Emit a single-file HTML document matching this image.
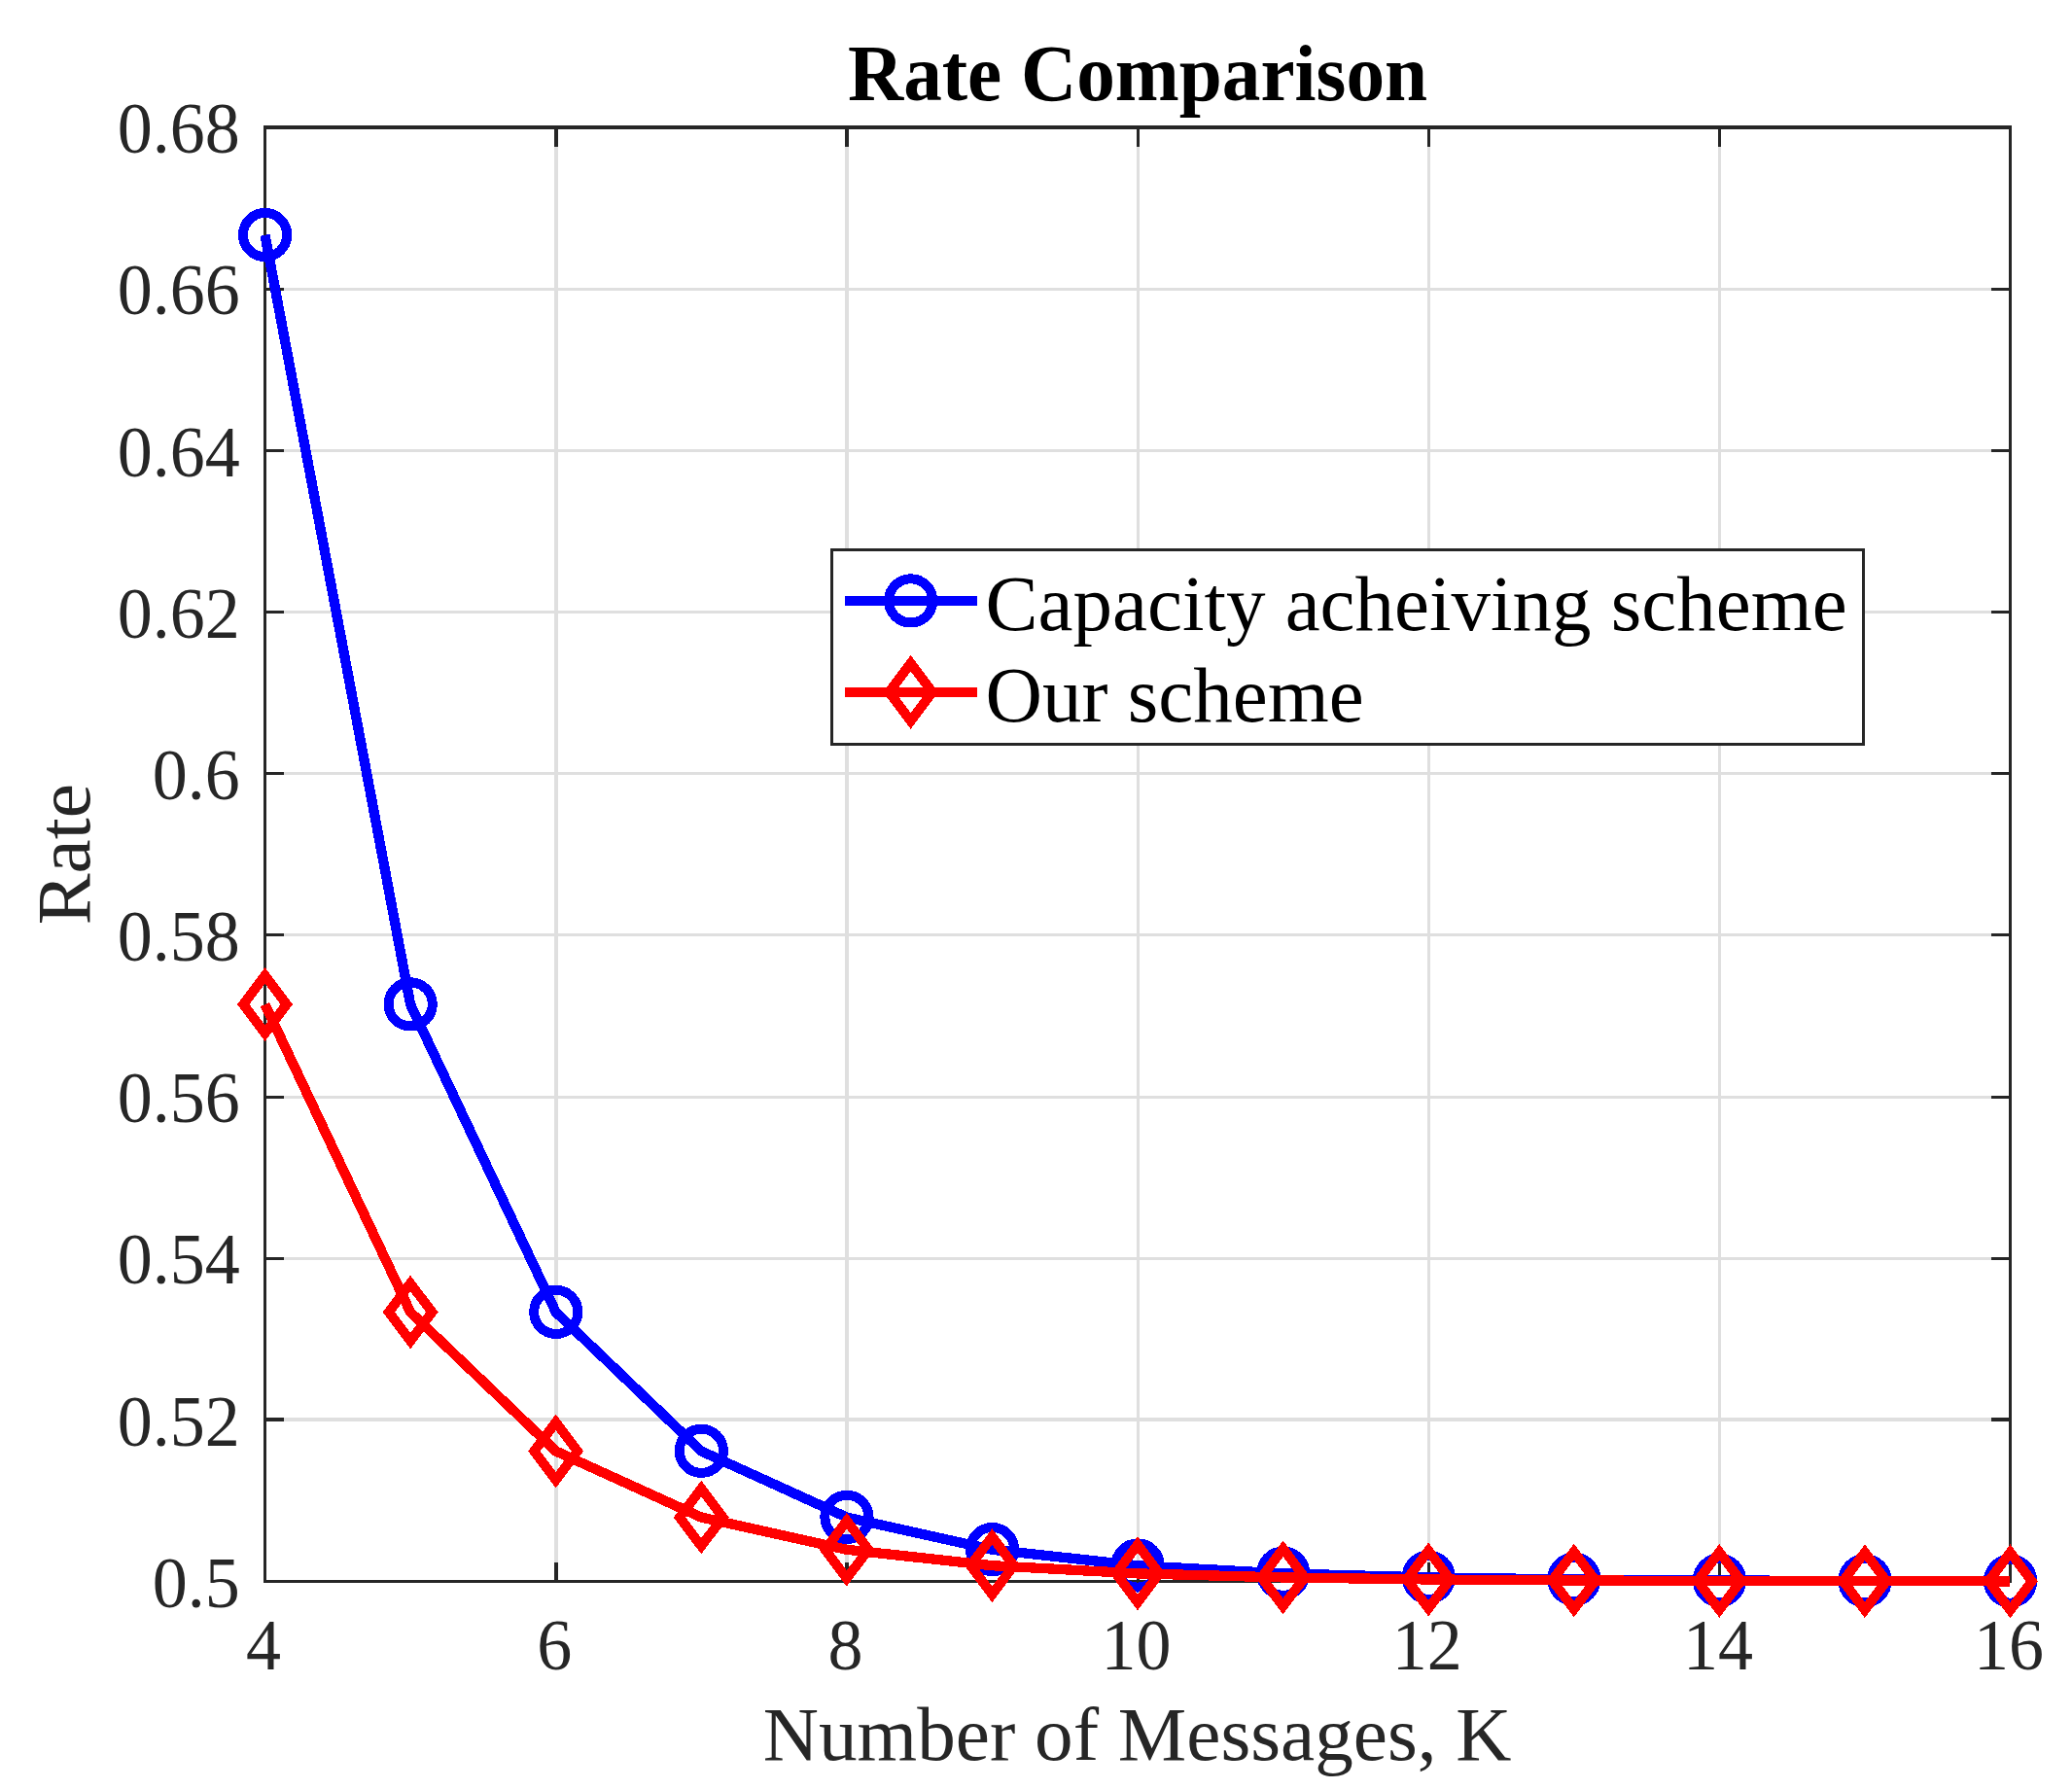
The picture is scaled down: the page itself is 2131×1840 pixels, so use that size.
<!DOCTYPE html>
<html lang="en"><head><meta charset="utf-8"><title>Rate Comparison</title>
<style>html,body{margin:0;padding:0;background:#fff;}body{width:2131px;height:1840px;overflow:hidden;}svg{display:block;}text{font-family:"Liberation Serif","Times New Roman",serif;}</style></head><body>
<svg width="2131" height="1840" viewBox="0 0 2131 1840">
<rect x="0" y="0" width="2131" height="1840" fill="#ffffff"/>
<g fill="#dfdfdf" stroke="none" shape-rendering="crispEdges">
<rect x="570" y="131" width="4" height="1496"/>
<rect x="869" y="131" width="4" height="1496"/>
<rect x="1169" y="131" width="3" height="1496"/>
<rect x="1468" y="131" width="3" height="1496"/>
<rect x="1767" y="131" width="3" height="1496"/>
<rect x="272" y="1458" width="1796" height="4"/>
<rect x="272" y="1293" width="1796" height="3"/>
<rect x="272" y="1127" width="1796" height="3"/>
<rect x="272" y="960" width="1796" height="3"/>
<rect x="272" y="794" width="1796" height="3"/>
<rect x="272" y="628" width="1796" height="3"/>
<rect x="272" y="462" width="1796" height="3"/>
<rect x="272" y="296" width="1796" height="3"/>
</g>
<g fill="#262626" stroke="none" shape-rendering="crispEdges">
<rect x="570" y="131" width="4" height="20"/>
<rect x="570" y="1607" width="4" height="20"/>
<rect x="869" y="131" width="4" height="20"/>
<rect x="869" y="1607" width="4" height="20"/>
<rect x="1169" y="131" width="3" height="20"/>
<rect x="1169" y="1607" width="3" height="20"/>
<rect x="1468" y="131" width="3" height="20"/>
<rect x="1468" y="1607" width="3" height="20"/>
<rect x="1767" y="131" width="3" height="20"/>
<rect x="1767" y="1607" width="3" height="20"/>
<rect x="272" y="1458" width="20" height="4"/>
<rect x="2048" y="1458" width="20" height="4"/>
<rect x="272" y="1293" width="20" height="3"/>
<rect x="2048" y="1293" width="20" height="3"/>
<rect x="272" y="1127" width="20" height="3"/>
<rect x="2048" y="1127" width="20" height="3"/>
<rect x="272" y="960" width="20" height="3"/>
<rect x="2048" y="960" width="20" height="3"/>
<rect x="272" y="794" width="20" height="3"/>
<rect x="2048" y="794" width="20" height="3"/>
<rect x="272" y="628" width="20" height="3"/>
<rect x="2048" y="628" width="20" height="3"/>
<rect x="272" y="462" width="20" height="3"/>
<rect x="2048" y="462" width="20" height="3"/>
<rect x="272" y="296" width="20" height="3"/>
<rect x="2048" y="296" width="20" height="3"/>
<rect x="271" y="129" width="1798" height="4"/><rect x="271" y="1625" width="1798" height="3"/><rect x="271" y="129" width="3" height="1499"/><rect x="2066" y="129" width="3" height="1499"/></g>
<g fill="#262626" font-size="72px">
<text transform="translate(271.10,1716.70) scale(1,1.042)" text-anchor="middle">4</text>
<text transform="translate(570.27,1716.70) scale(1,1.042)" text-anchor="middle">6</text>
<text transform="translate(869.43,1716.70) scale(1,1.042)" text-anchor="middle">8</text>
<text transform="translate(1168.60,1716.70) scale(1,1.042)" text-anchor="middle">10</text>
<text transform="translate(1467.77,1716.70) scale(1,1.042)" text-anchor="middle">12</text>
<text transform="translate(1766.93,1716.70) scale(1,1.042)" text-anchor="middle">14</text>
<text transform="translate(2066.10,1716.70) scale(1,1.042)" text-anchor="middle">16</text>
<text transform="translate(246.80,1652.70) scale(1,1.042)" text-anchor="end">0.5</text>
<text transform="translate(246.80,1486.53) scale(1,1.042)" text-anchor="end">0.52</text>
<text transform="translate(246.80,1320.37) scale(1,1.042)" text-anchor="end">0.54</text>
<text transform="translate(246.80,1154.20) scale(1,1.042)" text-anchor="end">0.56</text>
<text transform="translate(246.80,988.03) scale(1,1.042)" text-anchor="end">0.58</text>
<text transform="translate(246.80,821.87) scale(1,1.042)" text-anchor="end">0.6</text>
<text transform="translate(246.80,655.70) scale(1,1.042)" text-anchor="end">0.62</text>
<text transform="translate(246.80,489.53) scale(1,1.042)" text-anchor="end">0.64</text>
<text transform="translate(246.80,323.37) scale(1,1.042)" text-anchor="end">0.66</text>
<text transform="translate(246.80,157.20) scale(1,1.042)" text-anchor="end">0.68</text>
</g>
<text x="1169.70" y="1810.00" text-anchor="middle" font-size="79.2px" fill="#262626">Number of Messages, K</text>
<text transform="translate(91.60,878.75) rotate(-90)" text-anchor="middle" font-size="79.2px" fill="#262626">Rate</text>
<text transform="translate(1170.00,103.20) scale(1,1.05)" text-anchor="middle" font-size="79.2px" font-weight="bold" fill="#000000">Rate Comparison</text>
<g fill="none" stroke="#0000ff" stroke-linejoin="miter" stroke-linecap="butt" shape-rendering="crispEdges">
<polyline stroke-width="10.3" points="272.50,241.78 422.08,1033.05 571.67,1349.56 721.25,1492.49 870.83,1560.56 1020.42,1593.79 1170.00,1610.21 1319.58,1618.37 1469.17,1622.44 1618.75,1624.47 1768.33,1625.49 1917.92,1625.99 2067.50,1626.25"/>
<g stroke-width="10.0">
<circle cx="272.60" cy="241.58" r="22.60"/>
<circle cx="422.18" cy="1032.85" r="22.60"/>
<circle cx="571.77" cy="1349.36" r="22.60"/>
<circle cx="721.35" cy="1492.29" r="22.60"/>
<circle cx="870.93" cy="1560.36" r="22.60"/>
<circle cx="1020.52" cy="1593.59" r="22.60"/>
<circle cx="1170.10" cy="1610.01" r="22.60"/>
<circle cx="1319.68" cy="1618.17" r="22.60"/>
<circle cx="1469.27" cy="1622.24" r="22.60"/>
<circle cx="1618.85" cy="1624.27" r="22.60"/>
<circle cx="1768.43" cy="1625.29" r="22.60"/>
<circle cx="1918.02" cy="1625.79" r="22.60"/>
<circle cx="2067.60" cy="1626.05" r="22.60"/>
</g></g>
<g fill="none" stroke="#ff0000" stroke-linejoin="miter" stroke-miterlimit="10" stroke-linecap="butt" shape-rendering="crispEdges">
<polyline stroke-width="10.3" points="272.50,1033.05 422.08,1349.56 571.67,1492.49 721.25,1560.56 870.83,1593.79 1020.42,1610.21 1170.00,1618.37 1319.58,1622.44 1469.17,1624.47 1618.75,1625.49 1768.33,1625.99 1917.92,1626.25 2067.50,1626.37"/>
<g stroke-width="10.0">
<path d="M272.50 1003.45L294.75 1033.05L272.50 1062.65L250.25 1033.05Z"/>
<path d="M422.08 1319.96L444.33 1349.56L422.08 1379.16L399.83 1349.56Z"/>
<path d="M571.67 1462.89L593.92 1492.49L571.67 1522.09L549.42 1492.49Z"/>
<path d="M721.25 1530.96L743.50 1560.56L721.25 1590.16L699.00 1560.56Z"/>
<path d="M870.83 1564.19L893.08 1593.79L870.83 1623.39L848.58 1593.79Z"/>
<path d="M1020.42 1580.61L1042.67 1610.21L1020.42 1639.81L998.17 1610.21Z"/>
<path d="M1170.00 1588.77L1192.25 1618.37L1170.00 1647.97L1147.75 1618.37Z"/>
<path d="M1319.58 1592.84L1341.83 1622.44L1319.58 1652.04L1297.33 1622.44Z"/>
<path d="M1469.17 1594.87L1491.42 1624.47L1469.17 1654.07L1446.92 1624.47Z"/>
<path d="M1618.75 1595.89L1641.00 1625.49L1618.75 1655.09L1596.50 1625.49Z"/>
<path d="M1768.33 1596.39L1790.58 1625.99L1768.33 1655.59L1746.08 1625.99Z"/>
<path d="M1917.92 1596.65L1940.17 1626.25L1917.92 1655.85L1895.67 1626.25Z"/>
<path d="M2067.50 1596.77L2089.75 1626.37L2067.50 1655.97L2045.25 1626.37Z"/>
</g></g>
<rect x="855.50" y="565.50" width="1061.30" height="199.80" fill="#ffffff" stroke="#262626" stroke-width="3" shape-rendering="crispEdges"/>
<g fill="none" stroke="#0000ff" shape-rendering="crispEdges"><line x1="868.8" y1="617.9" x2="1005.2" y2="617.9" stroke-width="10.3"/><circle cx="936.65" cy="617.9" r="22.60" stroke-width="10.0"/></g>
<g fill="none" stroke="#ff0000" stroke-miterlimit="10" shape-rendering="crispEdges"><line x1="868.8" y1="711.9" x2="1005.2" y2="711.9" stroke-width="10.3"/><g stroke-width="10"><path d="M936.65 682.30L958.90 711.90L936.65 741.50L914.40 711.90Z"/></g></g>
<g fill="#000000" font-size="81px"><text x="1013.5" y="647.5">Capacity acheiving scheme</text><text x="1013.5" y="741.6">Our scheme</text></g>
</svg></body></html>
